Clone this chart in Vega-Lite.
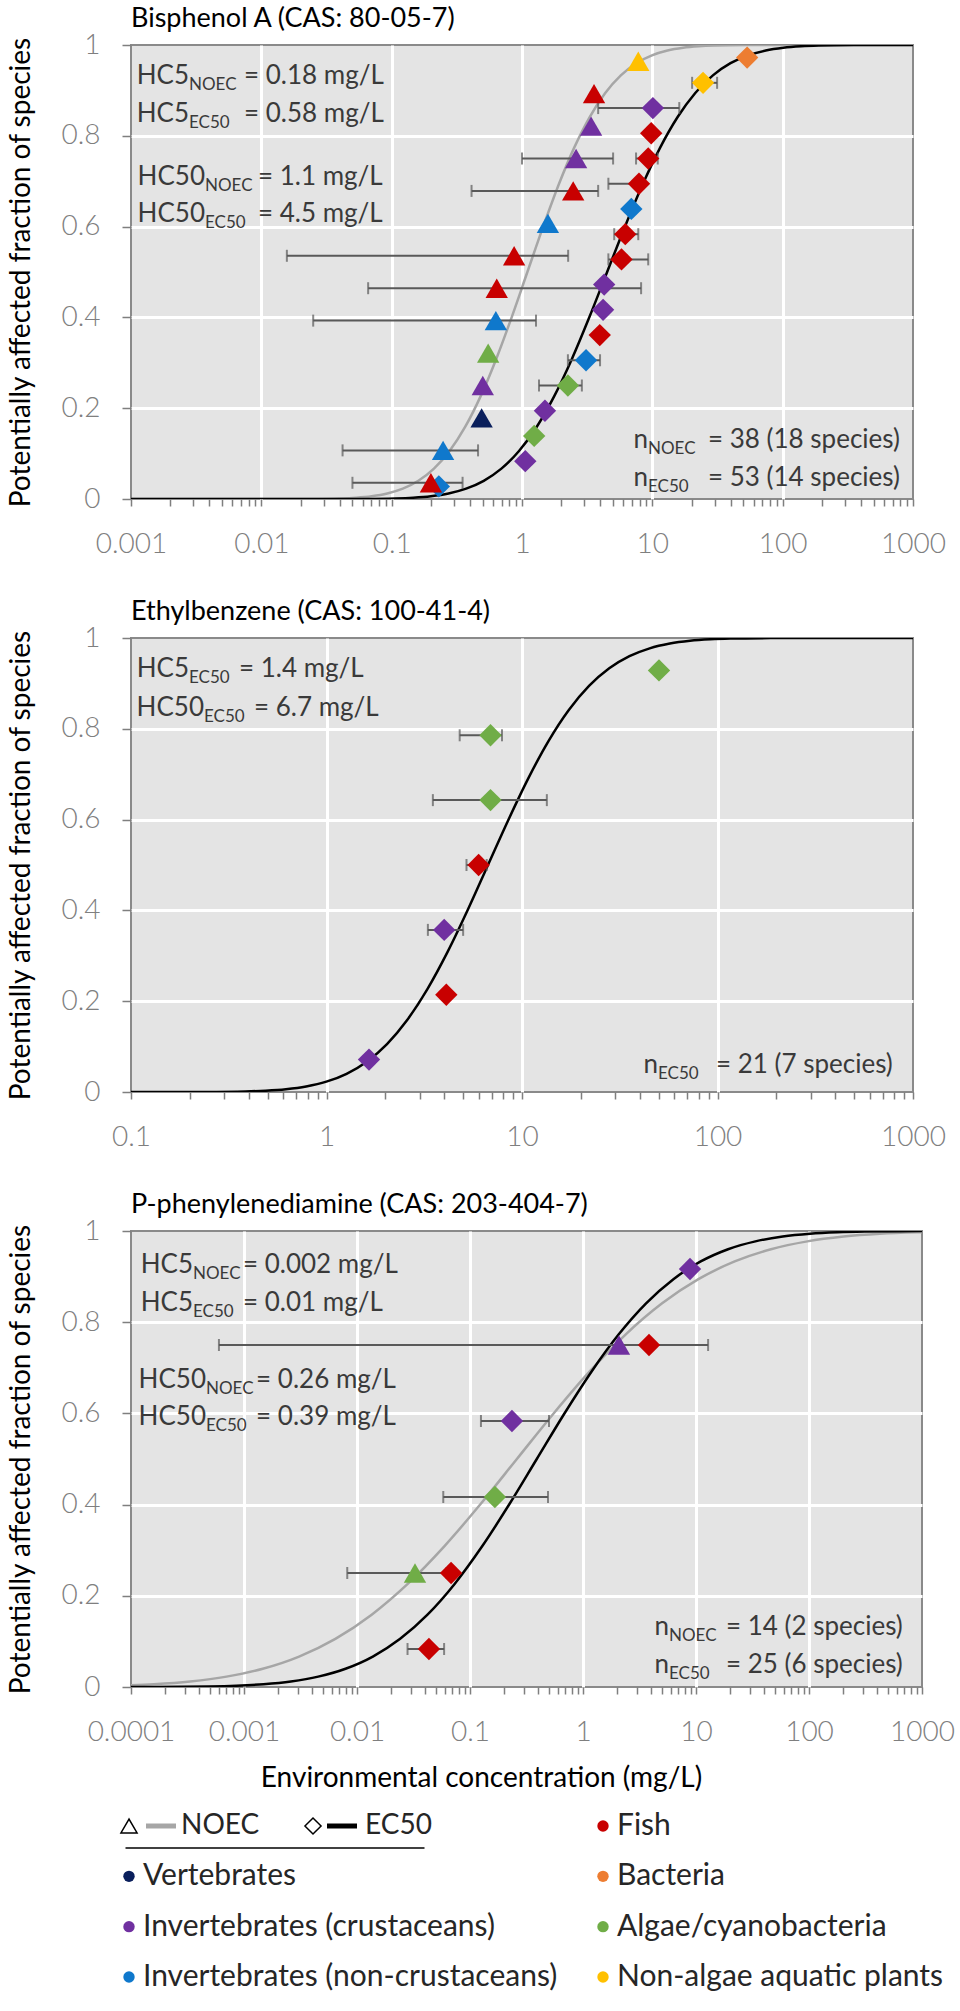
{
"$schema": "https://vega.github.io/schema/vega-lite/v6.json",
"padding": {"left": 6, "top": 4, "right": 5, "bottom": 5},
"bounds": "flush",
"spacing": 139,
"config": {
  "font": "Lato",
  "axis": {"labelFont": "Lato", "labelFontSize": 28, "labelFontWeight": 300, "labelColor": "#7f7f7f", "tickColor": "#7f7f7f", "tickWidth": 1.5, "domain": false, "gridColor": "#ffffff", "gridWidth": 3, "titleFont": "Lato", "titleFontSize": 28, "titleFontWeight": "normal", "titleColor": "#000000", "labelFlush": false, "labelOverlap": false},
  "title": {"anchor": "start", "frame": "group", "fontSize": 27, "fontWeight": "normal", "color": "#000000", "offset": -2, "baseline": "alphabetic", "font": "Lato"}
},
"datasets": {
  "points": [
    {"panel":1,"type":"EC50","group":"Invertebrates (non-crustaceans)","conc":0.23,"frac":0.0278},
    {"panel":1,"type":"NOEC","group":"Fish","conc":0.2,"frac":0.0357,"lo":0.05,"hi":0.35},
    {"panel":1,"type":"NOEC","group":"Invertebrates (non-crustaceans)","conc":0.248,"frac":0.1071,"lo":0.042,"hi":0.46},
    {"panel":1,"type":"NOEC","group":"Vertebrates","conc":0.49,"frac":0.1786},
    {"panel":1,"type":"NOEC","group":"Invertebrates (crustaceans)","conc":0.5,"frac":0.25},
    {"panel":1,"type":"NOEC","group":"Algae/cyanobacteria","conc":0.55,"frac":0.3214},
    {"panel":1,"type":"NOEC","group":"Invertebrates (non-crustaceans)","conc":0.63,"frac":0.3929,"lo":0.025,"hi":1.28},
    {"panel":1,"type":"NOEC","group":"Fish","conc":0.64,"frac":0.4643,"lo":0.066,"hi":8.2},
    {"panel":1,"type":"NOEC","group":"Fish","conc":0.87,"frac":0.5357,"lo":0.0157,"hi":2.26},
    {"panel":1,"type":"NOEC","group":"Invertebrates (non-crustaceans)","conc":1.58,"frac":0.6071},
    {"panel":1,"type":"NOEC","group":"Fish","conc":2.47,"frac":0.6786,"lo":0.41,"hi":3.84},
    {"panel":1,"type":"NOEC","group":"Invertebrates (crustaceans)","conc":2.6,"frac":0.75,"lo":1.0,"hi":5.0},
    {"panel":1,"type":"NOEC","group":"Invertebrates (crustaceans)","conc":3.39,"frac":0.8214},
    {"panel":1,"type":"NOEC","group":"Fish","conc":3.57,"frac":0.8929},
    {"panel":1,"type":"NOEC","group":"Non-algae aquatic plants","conc":7.8,"frac":0.9643},
    {"panel":1,"type":"EC50","group":"Invertebrates (crustaceans)","conc":1.06,"frac":0.0833},
    {"panel":1,"type":"EC50","group":"Algae/cyanobacteria","conc":1.24,"frac":0.1389},
    {"panel":1,"type":"EC50","group":"Invertebrates (crustaceans)","conc":1.5,"frac":0.1944},
    {"panel":1,"type":"EC50","group":"Algae/cyanobacteria","conc":2.25,"frac":0.25,"lo":1.35,"hi":2.88},
    {"panel":1,"type":"EC50","group":"Invertebrates (non-crustaceans)","conc":3.1,"frac":0.3056,"lo":2.25,"hi":3.97},
    {"panel":1,"type":"EC50","group":"Fish","conc":3.95,"frac":0.3611},
    {"panel":1,"type":"EC50","group":"Invertebrates (crustaceans)","conc":4.19,"frac":0.4167},
    {"panel":1,"type":"EC50","group":"Invertebrates (crustaceans)","conc":4.27,"frac":0.4722},
    {"panel":1,"type":"EC50","group":"Fish","conc":5.8,"frac":0.5278,"lo":4.6,"hi":9.3},
    {"panel":1,"type":"EC50","group":"Fish","conc":6.2,"frac":0.5833,"lo":5.1,"hi":7.8},
    {"panel":1,"type":"EC50","group":"Invertebrates (non-crustaceans)","conc":6.9,"frac":0.6389},
    {"panel":1,"type":"EC50","group":"Fish","conc":7.9,"frac":0.6944,"lo":4.6,"hi":8.5},
    {"panel":1,"type":"EC50","group":"Fish","conc":9.3,"frac":0.75,"lo":7.5,"hi":11},
    {"panel":1,"type":"EC50","group":"Fish","conc":9.8,"frac":0.8056},
    {"panel":1,"type":"EC50","group":"Invertebrates (crustaceans)","conc":10.1,"frac":0.8611,"lo":3.84,"hi":16.1},
    {"panel":1,"type":"EC50","group":"Non-algae aquatic plants","conc":24.5,"frac":0.9167,"lo":20.2,"hi":31.4},
    {"panel":1,"type":"EC50","group":"Bacteria","conc":53.4,"frac":0.9722},
    {"panel":2,"type":"EC50","group":"Invertebrates (crustaceans)","conc":1.65,"frac":0.0714},
    {"panel":2,"type":"EC50","group":"Fish","conc":4.1,"frac":0.2143},
    {"panel":2,"type":"EC50","group":"Invertebrates (crustaceans)","conc":4.0,"frac":0.3571,"lo":3.3,"hi":5.0},
    {"panel":2,"type":"EC50","group":"Fish","conc":6.0,"frac":0.5,"lo":5.2,"hi":6.6},
    {"panel":2,"type":"EC50","group":"Algae/cyanobacteria","conc":6.9,"frac":0.6429,"lo":3.5,"hi":13.4},
    {"panel":2,"type":"EC50","group":"Algae/cyanobacteria","conc":6.9,"frac":0.7857,"lo":4.8,"hi":7.9},
    {"panel":2,"type":"EC50","group":"Algae/cyanobacteria","conc":50.2,"frac":0.9286},
    {"panel":3,"type":"NOEC","group":"Algae/cyanobacteria","conc":0.0326,"frac":0.25,"lo":0.0082,"hi":0.062},
    {"panel":3,"type":"NOEC","group":"Invertebrates (crustaceans)","conc":2.08,"frac":0.75,"lo":0.0006,"hi":12.8},
    {"panel":3,"type":"EC50","group":"Fish","conc":0.0433,"frac":0.0833,"lo":0.028,"hi":0.059},
    {"panel":3,"type":"EC50","group":"Fish","conc":0.068,"frac":0.25},
    {"panel":3,"type":"EC50","group":"Algae/cyanobacteria","conc":0.166,"frac":0.4167,"lo":0.058,"hi":0.49},
    {"panel":3,"type":"EC50","group":"Invertebrates (crustaceans)","conc":0.235,"frac":0.5833,"lo":0.125,"hi":0.5},
    {"panel":3,"type":"EC50","group":"Fish","conc":3.84,"frac":0.75},
    {"panel":3,"type":"EC50","group":"Invertebrates (crustaceans)","conc":8.85,"frac":0.9167}
  ],
  "curves": [
    {"panel":1,"type":"NOEC","conc":0.001,"frac":0},{"panel":1,"type":"NOEC","conc":0.01348,"frac":0.00003},{"panel":1,"type":"NOEC","conc":0.02337,"frac":0.00023},{"panel":1,"type":"NOEC","conc":0.04052,"frac":0.00135},{"panel":1,"type":"NOEC","conc":0.05337,"frac":0.00298},{"panel":1,"type":"NOEC","conc":0.07024,"frac":0.00621},{"panel":1,"type":"NOEC","conc":0.0925,"frac":0.01222},{"panel":1,"type":"NOEC","conc":0.1218,"frac":0.02275},{"panel":1,"type":"NOEC","conc":0.1603,"frac":0.04006},{"panel":1,"type":"NOEC","conc":0.2111,"frac":0.06681},{"panel":1,"type":"NOEC","conc":0.278,"frac":0.10565},{"panel":1,"type":"NOEC","conc":0.3661,"frac":0.15866},{"panel":1,"type":"NOEC","conc":0.4819,"frac":0.22663},{"panel":1,"type":"NOEC","conc":0.6344,"frac":0.30854},{"panel":1,"type":"NOEC","conc":0.8354,"frac":0.40129},{"panel":1,"type":"NOEC","conc":1.1,"frac":0.5},{"panel":1,"type":"NOEC","conc":1.4488,"frac":0.59871},{"panel":1,"type":"NOEC","conc":1.9071,"frac":0.69146},{"panel":1,"type":"NOEC","conc":2.5107,"frac":0.77337},{"panel":1,"type":"NOEC","conc":3.306,"frac":0.84134},{"panel":1,"type":"NOEC","conc":4.352,"frac":0.89435},{"panel":1,"type":"NOEC","conc":5.731,"frac":0.93319},{"panel":1,"type":"NOEC","conc":7.545,"frac":0.95994},{"panel":1,"type":"NOEC","conc":9.936,"frac":0.97725},{"panel":1,"type":"NOEC","conc":13.08,"frac":0.98778},{"panel":1,"type":"NOEC","conc":17.23,"frac":0.99379},{"panel":1,"type":"NOEC","conc":22.68,"frac":0.99702},{"panel":1,"type":"NOEC","conc":29.86,"frac":0.99865},{"panel":1,"type":"NOEC","conc":51.78,"frac":0.99977},{"panel":1,"type":"NOEC","conc":89.75,"frac":0.99997},{"panel":1,"type":"NOEC","conc":1000,"frac":1},
    {"panel":1,"type":"EC50","conc":0.001,"frac":0},{"panel":1,"type":"EC50","conc":0.03088,"frac":0.00003},{"panel":1,"type":"EC50","conc":0.05754,"frac":0.00023},{"panel":1,"type":"EC50","conc":0.1073,"frac":0.00135},{"panel":1,"type":"EC50","conc":0.1464,"frac":0.00298},{"panel":1,"type":"EC50","conc":0.1999,"frac":0.00621},{"panel":1,"type":"EC50","conc":0.2731,"frac":0.01222},{"panel":1,"type":"EC50","conc":0.3727,"frac":0.02275},{"panel":1,"type":"EC50","conc":0.5087,"frac":0.04006},{"panel":1,"type":"EC50","conc":0.6948,"frac":0.06681},{"panel":1,"type":"EC50","conc":0.9486,"frac":0.10565},{"panel":1,"type":"EC50","conc":1.2951,"frac":0.15866},{"panel":1,"type":"EC50","conc":1.7681,"frac":0.22663},{"panel":1,"type":"EC50","conc":2.4149,"frac":0.30854},{"panel":1,"type":"EC50","conc":3.296,"frac":0.40129},{"panel":1,"type":"EC50","conc":4.5,"frac":0.5},{"panel":1,"type":"EC50","conc":6.143,"frac":0.59871},{"panel":1,"type":"EC50","conc":8.389,"frac":0.69146},{"panel":1,"type":"EC50","conc":11.454,"frac":0.77337},{"panel":1,"type":"EC50","conc":15.636,"frac":0.84134},{"panel":1,"type":"EC50","conc":21.35,"frac":0.89435},{"panel":1,"type":"EC50","conc":29.15,"frac":0.93319},{"panel":1,"type":"EC50","conc":39.8,"frac":0.95994},{"panel":1,"type":"EC50","conc":54.33,"frac":0.97725},{"panel":1,"type":"EC50","conc":74.17,"frac":0.98778},{"panel":1,"type":"EC50","conc":101.3,"frac":0.99379},{"panel":1,"type":"EC50","conc":138.3,"frac":0.99702},{"panel":1,"type":"EC50","conc":188.8,"frac":0.99865},{"panel":1,"type":"EC50","conc":351.9,"frac":0.99977},{"panel":1,"type":"EC50","conc":655.9,"frac":0.99997},{"panel":1,"type":"EC50","conc":1000,"frac":1},
    {"panel":2,"type":"EC50","conc":0.1,"frac":0},{"panel":2,"type":"EC50","conc":0.1488,"frac":0.00003},{"panel":2,"type":"EC50","conc":0.2394,"frac":0.00023},{"panel":2,"type":"EC50","conc":0.3854,"frac":0.00135},{"panel":2,"type":"EC50","conc":0.4889,"frac":0.00298},{"panel":2,"type":"EC50","conc":0.6203,"frac":0.00621},{"panel":2,"type":"EC50","conc":0.787,"frac":0.01222},{"panel":2,"type":"EC50","conc":0.9984,"frac":0.02275},{"panel":2,"type":"EC50","conc":1.2667,"frac":0.04006},{"panel":2,"type":"EC50","conc":1.6069,"frac":0.06681},{"panel":2,"type":"EC50","conc":2.0392,"frac":0.10565},{"panel":2,"type":"EC50","conc":2.5866,"frac":0.15866},{"panel":2,"type":"EC50","conc":3.2816,"frac":0.22663},{"panel":2,"type":"EC50","conc":4.163,"frac":0.30854},{"panel":2,"type":"EC50","conc":5.2819,"frac":0.40129},{"panel":2,"type":"EC50","conc":6.7,"frac":0.5},{"panel":2,"type":"EC50","conc":8.5016,"frac":0.59871},{"panel":2,"type":"EC50","conc":10.785,"frac":0.69146},{"panel":2,"type":"EC50","conc":13.683,"frac":0.77337},{"panel":2,"type":"EC50","conc":17.357,"frac":0.84134},{"panel":2,"type":"EC50","conc":22.023,"frac":0.89435},{"panel":2,"type":"EC50","conc":27.937,"frac":0.93319},{"panel":2,"type":"EC50","conc":35.446,"frac":0.95994},{"panel":2,"type":"EC50","conc":44.97,"frac":0.97725},{"panel":2,"type":"EC50","conc":57.06,"frac":0.98778},{"panel":2,"type":"EC50","conc":72.38,"frac":0.99379},{"panel":2,"type":"EC50","conc":91.84,"frac":0.99702},{"panel":2,"type":"EC50","conc":116.5,"frac":0.99865},{"panel":2,"type":"EC50","conc":187.5,"frac":0.99977},{"panel":2,"type":"EC50","conc":301.8,"frac":0.99997},{"panel":2,"type":"EC50","conc":1000,"frac":1},
    {"panel":3,"type":"NOEC","conc":0.0000761,"frac":0.00298},{"panel":3,"type":"NOEC","conc":0.0001594,"frac":0.00621},{"panel":3,"type":"NOEC","conc":0.0003341,"frac":0.01222},{"panel":3,"type":"NOEC","conc":0.0006998,"frac":0.02275},{"panel":3,"type":"NOEC","conc":0.001466,"frac":0.04006},{"panel":3,"type":"NOEC","conc":0.003072,"frac":0.06681},{"panel":3,"type":"NOEC","conc":0.006436,"frac":0.10565},{"panel":3,"type":"NOEC","conc":0.01349,"frac":0.15866},{"panel":3,"type":"NOEC","conc":0.02826,"frac":0.22663},{"panel":3,"type":"NOEC","conc":0.05922,"frac":0.30854},{"panel":3,"type":"NOEC","conc":0.1241,"frac":0.40129},{"panel":3,"type":"NOEC","conc":0.26,"frac":0.5},{"panel":3,"type":"NOEC","conc":0.5447,"frac":0.59871},{"panel":3,"type":"NOEC","conc":1.1416,"frac":0.69146},{"panel":3,"type":"NOEC","conc":2.392,"frac":0.77337},{"panel":3,"type":"NOEC","conc":5.0119,"frac":0.84134},{"panel":3,"type":"NOEC","conc":10.502,"frac":0.89435},{"panel":3,"type":"NOEC","conc":22,"frac":0.93319},{"panel":3,"type":"NOEC","conc":46.11,"frac":0.95994},{"panel":3,"type":"NOEC","conc":96.61,"frac":0.97725},{"panel":3,"type":"NOEC","conc":202.4,"frac":0.98778},{"panel":3,"type":"NOEC","conc":424.1,"frac":0.99379},{"panel":3,"type":"NOEC","conc":888.8,"frac":0.99702},{"panel":3,"type":"NOEC","conc":1862,"frac":0.99865},
    {"panel":3,"type":"EC50","conc":0.0000528,"frac":0.00003},{"panel":3,"type":"EC50","conc":0.0001606,"frac":0.00023},{"panel":3,"type":"EC50","conc":0.0004892,"frac":0.00135},{"panel":3,"type":"EC50","conc":0.000854,"frac":0.00298},{"panel":3,"type":"EC50","conc":0.001489,"frac":0.00621},{"panel":3,"type":"EC50","conc":0.0026,"frac":0.01222},{"panel":3,"type":"EC50","conc":0.004536,"frac":0.02275},{"panel":3,"type":"EC50","conc":0.007917,"frac":0.04006},{"panel":3,"type":"EC50","conc":0.01381,"frac":0.06681},{"panel":3,"type":"EC50","conc":0.0241,"frac":0.10565},{"panel":3,"type":"EC50","conc":0.04206,"frac":0.15866},{"panel":3,"type":"EC50","conc":0.0734,"frac":0.22663},{"panel":3,"type":"EC50","conc":0.1281,"frac":0.30854},{"panel":3,"type":"EC50","conc":0.2235,"frac":0.40129},{"panel":3,"type":"EC50","conc":0.39,"frac":0.5},{"panel":3,"type":"EC50","conc":0.6806,"frac":0.59871},{"panel":3,"type":"EC50","conc":1.1877,"frac":0.69146},{"panel":3,"type":"EC50","conc":2.0725,"frac":0.77337},{"panel":3,"type":"EC50","conc":3.6165,"frac":0.84134},{"panel":3,"type":"EC50","conc":6.3111,"frac":0.89435},{"panel":3,"type":"EC50","conc":11.013,"frac":0.93319},{"panel":3,"type":"EC50","conc":19.218,"frac":0.95994},{"panel":3,"type":"EC50","conc":33.54,"frac":0.97725},{"panel":3,"type":"EC50","conc":58.53,"frac":0.98778},{"panel":3,"type":"EC50","conc":102.1,"frac":0.99379},{"panel":3,"type":"EC50","conc":178.2,"frac":0.99702},{"panel":3,"type":"EC50","conc":311,"frac":0.99865},{"panel":3,"type":"EC50","conc":947,"frac":0.99977},{"panel":3,"type":"EC50","conc":2883,"frac":0.99997}
  ],
  "notes": [
    {"panel":1,"role":"pre","text":"HC5","conc":0.002786,"frac":0.9141},
    {"panel":1,"role":"sub","text":"NOEC","conc":0.002786,"frac":0.9009},
    {"panel":1,"role":"rest","text":"= 0.18 mg/L","conc":0.007362,"frac":0.9141},
    {"panel":1,"role":"pre","text":"HC5","conc":0.002786,"frac":0.8304},
    {"panel":1,"role":"sub","text":"EC50","conc":0.002786,"frac":0.8172},
    {"panel":1,"role":"rest","text":"= 0.58 mg/L","conc":0.007362,"frac":0.8304},
    {"panel":1,"role":"pre","text":"HC50","conc":0.003697,"frac":0.6916},
    {"panel":1,"role":"sub","text":"NOEC","conc":0.003697,"frac":0.6784},
    {"panel":1,"role":"rest","text":"= 1.1 mg/L","conc":0.00943,"frac":0.6916},
    {"panel":1,"role":"pre","text":"HC50","conc":0.003697,"frac":0.6101},
    {"panel":1,"role":"sub","text":"EC50","conc":0.003697,"frac":0.5969},
    {"panel":1,"role":"rest","text":"= 4.5 mg/L","conc":0.00943,"frac":0.6101},
    {"panel":1,"role":"pre","text":"n","conc":9.267,"frac":0.1123},
    {"panel":1,"role":"sub","text":"NOEC","conc":9.267,"frac":0.0991},
    {"panel":1,"role":"rest","text":"= 38 (18 species)","conc":26.74,"frac":0.1123},
    {"panel":1,"role":"pre","text":"n","conc":9.267,"frac":0.0286},
    {"panel":1,"role":"sub","text":"EC50","conc":9.267,"frac":0.0154},
    {"panel":1,"role":"rest","text":"= 53 (14 species)","conc":26.74,"frac":0.0286},
    {"panel":2,"role":"pre","text":"HC5","conc":0.198,"frac":0.9141},
    {"panel":2,"role":"sub","text":"EC50","conc":0.198,"frac":0.9009},
    {"panel":2,"role":"rest","text":"= 1.4 mg/L","conc":0.3567,"frac":0.9141},
    {"panel":2,"role":"pre","text":"HC50","conc":0.2362,"frac":0.8282},
    {"panel":2,"role":"sub","text":"EC50","conc":0.2362,"frac":0.815},
    {"panel":2,"role":"rest","text":"= 6.7 mg/L","conc":0.4258,"frac":0.8282},
    {"panel":2,"role":"pre","text":"n","conc":49.6,"frac":0.042},
    {"panel":2,"role":"sub","text":"EC50","conc":49.6,"frac":0.029},
    {"panel":2,"role":"rest","text":"= 21 (7 species)","conc":98.2,"frac":0.042},
    {"panel":3,"role":"pre","text":"HC5","conc":0.0003538,"frac":0.9079},
    {"panel":3,"role":"sub","text":"NOEC","conc":0.0003538,"frac":0.8947},
    {"panel":3,"role":"rest","text":"= 0.002 mg/L","conc":0.00098,"frac":0.9079},
    {"panel":3,"role":"pre","text":"HC5","conc":0.0003538,"frac":0.8246},
    {"panel":3,"role":"sub","text":"EC50","conc":0.0003538,"frac":0.8114},
    {"panel":3,"role":"rest","text":"= 0.01 mg/L","conc":0.00098,"frac":0.8246},
    {"panel":3,"role":"pre","text":"HC50","conc":0.000461,"frac":0.6557},
    {"panel":3,"role":"sub","text":"NOEC","conc":0.000461,"frac":0.6425},
    {"panel":3,"role":"rest","text":"= 0.26 mg/L","conc":0.00128,"frac":0.6557},
    {"panel":3,"role":"pre","text":"HC50","conc":0.000461,"frac":0.5746},
    {"panel":3,"role":"sub","text":"EC50","conc":0.000461,"frac":0.5614},
    {"panel":3,"role":"rest","text":"= 0.39 mg/L","conc":0.00128,"frac":0.5746},
    {"panel":3,"role":"pre","text":"n","conc":5.77,"frac":0.114},
    {"panel":3,"role":"sub","text":"NOEC","conc":5.77,"frac":0.1008},
    {"panel":3,"role":"rest","text":"= 14 (2 species)","conc":18.43,"frac":0.114},
    {"panel":3,"role":"pre","text":"n","conc":5.77,"frac":0.0307},
    {"panel":3,"role":"sub","text":"EC50","conc":5.77,"frac":0.0175},
    {"panel":3,"role":"rest","text":"= 25 (6 species)","conc":18.43,"frac":0.0307}
  ],
  "legend": [
    {"kind":"header","col":0,"row":1},
    {"kind":"item","col":1,"row":1,"label":"Fish"},
    {"kind":"item","col":0,"row":2,"label":"Vertebrates"},
    {"kind":"item","col":1,"row":2,"label":"Bacteria"},
    {"kind":"item","col":0,"row":3,"label":"Invertebrates (crustaceans)"},
    {"kind":"item","col":1,"row":3,"label":"Algae/cyanobacteria"},
    {"kind":"item","col":0,"row":4,"label":"Invertebrates (non-crustaceans)"},
    {"kind":"item","col":1,"row":4,"label":"Non-algae aquatic plants"}
  ]
},
"vconcat": [
  {
    "width": 782, "height": 454,
    "view": {"fill": "#e4e4e4", "stroke": "#8a8a8a", "strokeWidth": 2},
    "title": {"text": "Bisphenol A (CAS: 80-05-7)"},
    "layer": [
      {"data": {"name": "curves"}, "transform": [{"filter": "datum.panel == 1"}],
       "mark": {"type": "line", "clip": true, "interpolate": "monotone", "strokeWidth": 2.5},
       "encoding": {
         "x": {"field": "conc", "type": "quantitative", "scale": {"type": "log", "domain": [0.001, 1000], "nice": false},
               "axis": {"title": null, "values": [0.001,0.002,0.003,0.004,0.005,0.006,0.007,0.008,0.009,0.01,0.02,0.03,0.04,0.05,0.06,0.07,0.08,0.09,0.1,0.2,0.3,0.4,0.5,0.6,0.7,0.8,0.9,1,2,3,4,5,6,7,8,9,10,20,30,40,50,60,70,80,90,100,200,300,400,500,600,700,800,900,1000],
                        "format": "~g", "tickSize": 7, "labelPadding": 24,
                        "labelExpr": "abs(log(datum.value)/LN10 - round(log(datum.value)/LN10)) < 0.01 ? datum.label : ''",
                        "gridOpacity": {"condition": {"test": "abs(log(datum.value)/LN10 - round(log(datum.value)/LN10)) < 0.01 && datum.value > 0.0015 && datum.value < 900", "value": 1}, "value": 0}}},
         "y": {"field": "frac", "type": "quantitative", "scale": {"domain": [0, 1], "nice": false},
               "axis": {"title": "Potentially affected fraction of species", "values": [0,0.2,0.4,0.6,0.8,1], "format": "~g", "tickSize": 9, "labelPadding": 22, "titlePadding": 25,
                        "gridOpacity": {"condition": {"test": "datum.value < 0.01 || datum.value > 0.99", "value": 0}, "value": 1}}},
         "stroke": {"field": "type", "type": "nominal", "scale": {"domain": ["NOEC", "EC50"], "range": ["#a6a6a6", "#000000"]}, "legend": null}
       }},
      {"data": {"name": "points"}, "transform": [{"filter": "datum.panel == 1 && isValid(datum.lo)"}],
       "mark": {"type": "rule", "color": "#595959", "strokeWidth": 2},
       "encoding": {"x": {"field": "lo", "type": "quantitative"}, "x2": {"field": "hi"}, "y": {"field": "frac", "type": "quantitative"}}},
      {"data": {"name": "points"}, "transform": [{"filter": "datum.panel == 1 && isValid(datum.lo)"}],
       "mark": {"type": "tick", "orient": "vertical", "color": "#595959", "thickness": 2, "size": 12},
       "encoding": {"x": {"field": "lo", "type": "quantitative"}, "y": {"field": "frac", "type": "quantitative"}}},
      {"data": {"name": "points"}, "transform": [{"filter": "datum.panel == 1 && isValid(datum.lo)"}],
       "mark": {"type": "tick", "orient": "vertical", "color": "#595959", "thickness": 2, "size": 12},
       "encoding": {"x": {"field": "hi", "type": "quantitative"}, "y": {"field": "frac", "type": "quantitative"}}},
      {"data": {"name": "points"}, "transform": [{"filter": "datum.panel == 1"}],
       "mark": {"type": "point", "filled": true, "size": 500, "opacity": 1},
       "encoding": {"x": {"field": "conc", "type": "quantitative"}, "y": {"field": "frac", "type": "quantitative"},
         "shape": {"field": "type", "type": "nominal", "scale": {"domain": ["NOEC", "EC50"], "range": ["triangle-up", "diamond"]}, "legend": null},
         "fill": {"field": "group", "type": "nominal", "scale": {"domain": ["Fish","Vertebrates","Bacteria","Invertebrates (crustaceans)","Algae/cyanobacteria","Invertebrates (non-crustaceans)","Non-algae aquatic plants"], "range": ["#C80000","#0A1F5C","#ED7D31","#7030A0","#70AD47","#0F78CC","#FFC000"]}, "legend": null}}},
      {"data": {"name": "notes"}, "transform": [{"filter": "datum.panel == 1 && datum.role == 'pre'"}],
       "mark": {"type": "text", "align": "right", "baseline": "alphabetic", "fontSize": 26, "color": "#3a3a3a"},
       "encoding": {"x": {"field": "conc", "type": "quantitative"}, "y": {"field": "frac", "type": "quantitative"}, "text": {"field": "text"}}},
      {"data": {"name": "notes"}, "transform": [{"filter": "datum.panel == 1 && datum.role == 'sub'"}],
       "mark": {"type": "text", "align": "left", "baseline": "alphabetic", "fontSize": 17, "color": "#3a3a3a"},
       "encoding": {"x": {"field": "conc", "type": "quantitative"}, "y": {"field": "frac", "type": "quantitative"}, "text": {"field": "text"}}},
      {"data": {"name": "notes"}, "transform": [{"filter": "datum.panel == 1 && datum.role == 'rest'"}],
       "mark": {"type": "text", "align": "left", "baseline": "alphabetic", "fontSize": 26, "color": "#3a3a3a"},
       "encoding": {"x": {"field": "conc", "type": "quantitative"}, "y": {"field": "frac", "type": "quantitative"}, "text": {"field": "text"}}}
    ]
  },
  {
    "width": 782, "height": 454,
    "view": {"fill": "#e4e4e4", "stroke": "#8a8a8a", "strokeWidth": 2},
    "title": {"text": "Ethylbenzene (CAS: 100-41-4)"},
    "layer": [
      {"data": {"name": "curves"}, "transform": [{"filter": "datum.panel == 2"}],
       "mark": {"type": "line", "clip": true, "interpolate": "monotone", "strokeWidth": 2.5},
       "encoding": {
         "x": {"field": "conc", "type": "quantitative", "scale": {"type": "log", "domain": [0.1, 1000], "nice": false},
               "axis": {"title": null, "values": [0.1,0.2,0.3,0.4,0.5,0.6,0.7,0.8,0.9,1,2,3,4,5,6,7,8,9,10,20,30,40,50,60,70,80,90,100,200,300,400,500,600,700,800,900,1000],
                        "format": "~g", "tickSize": 7, "labelPadding": 24,
                        "labelExpr": "abs(log(datum.value)/LN10 - round(log(datum.value)/LN10)) < 0.01 ? datum.label : ''",
                        "gridOpacity": {"condition": {"test": "abs(log(datum.value)/LN10 - round(log(datum.value)/LN10)) < 0.01 && datum.value > 0.15 && datum.value < 900", "value": 1}, "value": 0}}},
         "y": {"field": "frac", "type": "quantitative", "scale": {"domain": [0, 1], "nice": false},
               "axis": {"title": "Potentially affected fraction of species", "values": [0,0.2,0.4,0.6,0.8,1], "format": "~g", "tickSize": 9, "labelPadding": 22, "titlePadding": 25,
                        "gridOpacity": {"condition": {"test": "datum.value < 0.01 || datum.value > 0.99", "value": 0}, "value": 1}}},
         "stroke": {"field": "type", "type": "nominal", "scale": {"domain": ["NOEC", "EC50"], "range": ["#a6a6a6", "#000000"]}, "legend": null}
       }},
      {"data": {"name": "points"}, "transform": [{"filter": "datum.panel == 2 && isValid(datum.lo)"}],
       "mark": {"type": "rule", "color": "#595959", "strokeWidth": 2},
       "encoding": {"x": {"field": "lo", "type": "quantitative"}, "x2": {"field": "hi"}, "y": {"field": "frac", "type": "quantitative"}}},
      {"data": {"name": "points"}, "transform": [{"filter": "datum.panel == 2 && isValid(datum.lo)"}],
       "mark": {"type": "tick", "orient": "vertical", "color": "#595959", "thickness": 2, "size": 12},
       "encoding": {"x": {"field": "lo", "type": "quantitative"}, "y": {"field": "frac", "type": "quantitative"}}},
      {"data": {"name": "points"}, "transform": [{"filter": "datum.panel == 2 && isValid(datum.lo)"}],
       "mark": {"type": "tick", "orient": "vertical", "color": "#595959", "thickness": 2, "size": 12},
       "encoding": {"x": {"field": "hi", "type": "quantitative"}, "y": {"field": "frac", "type": "quantitative"}}},
      {"data": {"name": "points"}, "transform": [{"filter": "datum.panel == 2"}],
       "mark": {"type": "point", "filled": true, "size": 500, "opacity": 1},
       "encoding": {"x": {"field": "conc", "type": "quantitative"}, "y": {"field": "frac", "type": "quantitative"},
         "shape": {"field": "type", "type": "nominal", "scale": {"domain": ["NOEC", "EC50"], "range": ["triangle-up", "diamond"]}, "legend": null},
         "fill": {"field": "group", "type": "nominal", "scale": {"domain": ["Fish","Vertebrates","Bacteria","Invertebrates (crustaceans)","Algae/cyanobacteria","Invertebrates (non-crustaceans)","Non-algae aquatic plants"], "range": ["#C80000","#0A1F5C","#ED7D31","#7030A0","#70AD47","#0F78CC","#FFC000"]}, "legend": null}}},
      {"data": {"name": "notes"}, "transform": [{"filter": "datum.panel == 2 && datum.role == 'pre'"}],
       "mark": {"type": "text", "align": "right", "baseline": "alphabetic", "fontSize": 26, "color": "#3a3a3a"},
       "encoding": {"x": {"field": "conc", "type": "quantitative"}, "y": {"field": "frac", "type": "quantitative"}, "text": {"field": "text"}}},
      {"data": {"name": "notes"}, "transform": [{"filter": "datum.panel == 2 && datum.role == 'sub'"}],
       "mark": {"type": "text", "align": "left", "baseline": "alphabetic", "fontSize": 17, "color": "#3a3a3a"},
       "encoding": {"x": {"field": "conc", "type": "quantitative"}, "y": {"field": "frac", "type": "quantitative"}, "text": {"field": "text"}}},
      {"data": {"name": "notes"}, "transform": [{"filter": "datum.panel == 2 && datum.role == 'rest'"}],
       "mark": {"type": "text", "align": "left", "baseline": "alphabetic", "fontSize": 26, "color": "#3a3a3a"},
       "encoding": {"x": {"field": "conc", "type": "quantitative"}, "y": {"field": "frac", "type": "quantitative"}, "text": {"field": "text"}}}
    ]
  },
  {
    "width": 791, "height": 456,
    "view": {"fill": "#e4e4e4", "stroke": "#8a8a8a", "strokeWidth": 2},
    "title": {"text": "P-phenylenediamine (CAS: 203-404-7)"},
    "layer": [
      {"data": {"name": "curves"}, "transform": [{"filter": "datum.panel == 3"}],
       "mark": {"type": "line", "clip": true, "interpolate": "monotone", "strokeWidth": 2.5},
       "encoding": {
         "x": {"field": "conc", "type": "quantitative", "scale": {"type": "log", "domain": [0.0001, 1000], "nice": false},
               "axis": {"title": "Environmental concentration (mg/L)", "titleX": 350, "titleY": 91, "titleBaseline": "middle", "titleAlign": "center", "values": [0.0001,0.0002,0.0003,0.0004,0.0005,0.0006,0.0007,0.0008,0.0009,0.001,0.002,0.003,0.004,0.005,0.006,0.007,0.008,0.009,0.01,0.02,0.03,0.04,0.05,0.06,0.07,0.08,0.09,0.1,0.2,0.3,0.4,0.5,0.6,0.7,0.8,0.9,1,2,3,4,5,6,7,8,9,10,20,30,40,50,60,70,80,90,100,200,300,400,500,600,700,800,900,1000],
                        "format": "~g", "tickSize": 7, "labelPadding": 24,
                        "labelExpr": "abs(log(datum.value)/LN10 - round(log(datum.value)/LN10)) < 0.01 ? datum.label : ''",
                        "gridOpacity": {"condition": {"test": "abs(log(datum.value)/LN10 - round(log(datum.value)/LN10)) < 0.01 && datum.value > 0.00015 && datum.value < 900", "value": 1}, "value": 0}}},
         "y": {"field": "frac", "type": "quantitative", "scale": {"domain": [0, 1], "nice": false},
               "axis": {"title": "Potentially affected fraction of species", "values": [0,0.2,0.4,0.6,0.8,1], "format": "~g", "tickSize": 9, "labelPadding": 22, "titlePadding": 25,
                        "gridOpacity": {"condition": {"test": "datum.value < 0.01 || datum.value > 0.99", "value": 0}, "value": 1}}},
         "stroke": {"field": "type", "type": "nominal", "scale": {"domain": ["NOEC", "EC50"], "range": ["#a6a6a6", "#000000"]}, "legend": null}
       }},
      {"data": {"name": "points"}, "transform": [{"filter": "datum.panel == 3 && isValid(datum.lo)"}],
       "mark": {"type": "rule", "color": "#595959", "strokeWidth": 2},
       "encoding": {"x": {"field": "lo", "type": "quantitative"}, "x2": {"field": "hi"}, "y": {"field": "frac", "type": "quantitative"}}},
      {"data": {"name": "points"}, "transform": [{"filter": "datum.panel == 3 && isValid(datum.lo)"}],
       "mark": {"type": "tick", "orient": "vertical", "color": "#595959", "thickness": 2, "size": 12},
       "encoding": {"x": {"field": "lo", "type": "quantitative"}, "y": {"field": "frac", "type": "quantitative"}}},
      {"data": {"name": "points"}, "transform": [{"filter": "datum.panel == 3 && isValid(datum.lo)"}],
       "mark": {"type": "tick", "orient": "vertical", "color": "#595959", "thickness": 2, "size": 12},
       "encoding": {"x": {"field": "hi", "type": "quantitative"}, "y": {"field": "frac", "type": "quantitative"}}},
      {"data": {"name": "points"}, "transform": [{"filter": "datum.panel == 3"}],
       "mark": {"type": "point", "filled": true, "size": 500, "opacity": 1},
       "encoding": {"x": {"field": "conc", "type": "quantitative"}, "y": {"field": "frac", "type": "quantitative"},
         "shape": {"field": "type", "type": "nominal", "scale": {"domain": ["NOEC", "EC50"], "range": ["triangle-up", "diamond"]}, "legend": null},
         "fill": {"field": "group", "type": "nominal", "scale": {"domain": ["Fish","Vertebrates","Bacteria","Invertebrates (crustaceans)","Algae/cyanobacteria","Invertebrates (non-crustaceans)","Non-algae aquatic plants"], "range": ["#C80000","#0A1F5C","#ED7D31","#7030A0","#70AD47","#0F78CC","#FFC000"]}, "legend": null}}},
      {"data": {"name": "notes"}, "transform": [{"filter": "datum.panel == 3 && datum.role == 'pre'"}],
       "mark": {"type": "text", "align": "right", "baseline": "alphabetic", "fontSize": 26, "color": "#3a3a3a"},
       "encoding": {"x": {"field": "conc", "type": "quantitative"}, "y": {"field": "frac", "type": "quantitative"}, "text": {"field": "text"}}},
      {"data": {"name": "notes"}, "transform": [{"filter": "datum.panel == 3 && datum.role == 'sub'"}],
       "mark": {"type": "text", "align": "left", "baseline": "alphabetic", "fontSize": 17, "color": "#3a3a3a"},
       "encoding": {"x": {"field": "conc", "type": "quantitative"}, "y": {"field": "frac", "type": "quantitative"}, "text": {"field": "text"}}},
      {"data": {"name": "notes"}, "transform": [{"filter": "datum.panel == 3 && datum.role == 'rest'"}],
       "mark": {"type": "text", "align": "left", "baseline": "alphabetic", "fontSize": 26, "color": "#3a3a3a"},
       "encoding": {"x": {"field": "conc", "type": "quantitative"}, "y": {"field": "frac", "type": "quantitative"}, "text": {"field": "text"}}}
    ]
  },
  {
    "width": 782, "height": 151,
    "view": {"stroke": null, "fill": null},
    "data": {"name": "legend"},
    "encoding": {
      "x": {"field": "col", "type": "quantitative", "scale": {"domain": [0, 1], "range": [-2, 472], "nice": false, "zero": false}, "axis": null},
      "y": {"field": "row", "type": "quantitative", "scale": {"domain": [1, 4], "range": [0, 151], "nice": false, "zero": false}, "axis": null}
    },
    "layer": [
      {"transform": [{"filter": "datum.kind == 'item'"}],
       "mark": {"type": "point", "shape": "circle", "filled": true, "size": 130, "opacity": 1},
       "encoding": {"fill": {"field": "label", "type": "nominal", "scale": {"domain": ["Fish","Vertebrates","Bacteria","Invertebrates (crustaceans)","Algae/cyanobacteria","Invertebrates (non-crustaceans)","Non-algae aquatic plants"], "range": ["#C80000","#0A1F5C","#ED7D31","#7030A0","#70AD47","#0F78CC","#FFC000"]}, "legend": null}}},
      {"transform": [{"filter": "datum.kind == 'item'"}],
       "mark": {"type": "text", "align": "left", "baseline": "middle", "dx": 14, "fontSize": 30, "color": "#262626"},
       "encoding": {"text": {"field": "label"}}},
      {"transform": [{"filter": "datum.kind == 'header'"}],
       "mark": {"type": "point", "shape": "triangle-up", "filled": false, "stroke": "#000000", "strokeWidth": 1.5, "size": 260, "opacity": 1}},
      {"transform": [{"filter": "datum.kind == 'header'"}],
       "mark": {"type": "point", "shape": "stroke", "filled": false, "stroke": "#a6a6a6", "strokeWidth": 5, "size": 900, "xOffset": 32, "opacity": 1}},
      {"transform": [{"filter": "datum.kind == 'header'"}],
       "mark": {"type": "text", "text": "NOEC", "align": "left", "baseline": "middle", "dx": 52, "fontSize": 28, "color": "#262626"}},
      {"transform": [{"filter": "datum.kind == 'header'"}],
       "mark": {"type": "point", "shape": "diamond", "filled": false, "stroke": "#000000", "strokeWidth": 1.5, "size": 260, "xOffset": 184, "opacity": 1}},
      {"transform": [{"filter": "datum.kind == 'header'"}],
       "mark": {"type": "point", "shape": "stroke", "filled": false, "stroke": "#000000", "strokeWidth": 5, "size": 900, "xOffset": 213, "opacity": 1}},
      {"transform": [{"filter": "datum.kind == 'header'"}],
       "mark": {"type": "text", "text": "EC50", "align": "left", "baseline": "middle", "dx": 236, "fontSize": 28, "color": "#262626"}},
      {"transform": [{"filter": "datum.kind == 'header'"}],
       "mark": {"type": "point", "shape": "stroke", "filled": false, "stroke": "#404040", "strokeWidth": 2, "size": 89401, "xOffset": 146, "yOffset": 22, "opacity": 1}}
    ]
  }
]
}
